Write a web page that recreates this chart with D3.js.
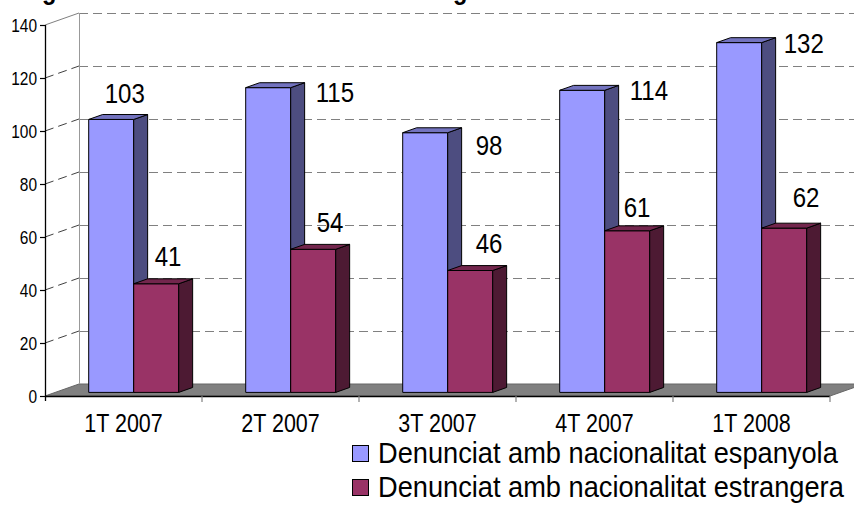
<!DOCTYPE html>
<html>
<head>
<meta charset="utf-8">
<script src="https://cdn.jsdelivr.net/npm/d3@7"></script>
<style>
  body { margin: 0; background: #fff; }
  svg { display: block; }
  text { font-family: "Liberation Sans", Arial, sans-serif; fill: #000; }
</style>
</head>
<body>
<div id="chart"></div>
<script>
// chart values
const categories = ["1T 2007", "2T 2007", "3T 2007", "4T 2007", "1T 2008"];
const spanish = [103, 115, 98, 114, 132];
const foreign = [41, 54, 46, 61, 62];
const seriesNames = ["Denunciat amb nacionalitat espanyola", "Denunciat amb nacionalitat estrangera"];
const yTicks = [0, 20, 40, 60, 80, 100, 120, 140];
const titleText = "Origen dels denunciats en violència de gènere";

const width = 854, height = 515;
const colors = [
  { front: "#9999FF", side: "#4D4D80", top: "#7373BF" },
  { front: "#993366", side: "#4D1A33", top: "#73264D" }
];
const narrow = 0.86; // no condensed font installed, squeeze glyphs instead

// label nudges from the bar's top front-left corner (text left, baseline)
const labelNudge = [
  [[16, -16], [70, 14], [73, 22], [70, 10], [67, 10]],
  [[21, -18], [26, -17], [28, -18], [19, -14], [31, -21]]
];

const svg = d3.select("#chart").append("svg")
  .attr("width", width).attr("height", height);

// place a text at (px, py) squeezed horizontally
function putText(parent, px, py, str, size, anchor, sx) {
  return parent.append("text")
    .attr("transform", `translate(${px},${py}) scale(${sx || narrow},1)`)
    .attr("text-anchor", anchor || "start")
    .style("font-size", size + "px")
    .text(str);
}

const x = d3.scaleBand().domain(categories).range([45, 830]);
const sub = d3.scaleBand().domain([0, 1]).range([0, x.bandwidth()]).paddingOuter(0.744);
const y = d3.scaleLinear().domain([0, 140]).range([396, 25]);

// depth projection: t = 0 front plane, t = 1 back wall
const depthX = 34, depthY = -12;
const proj = (px, py, t) => [px + depthX * t, py + depthY * t];
const tFront = 0.3, tBack = 0.71;
const pts = arr => arr.map(p => p.join(",")).join(" ");

// title (sits above the visible area, only descenders show)
const title = svg.append("text")
  .attr("x", 0).attr("y", 0)
  .style("font-weight", "bold")
  .style("font-size", "28px")
  .text(titleText);
const g1 = titleText.indexOf("g"), g2 = titleText.lastIndexOf("g");
const tn = title.node();
const off1 = tn.getSubStringLength(0, g1);
const off2 = tn.getSubStringLength(0, g2);
const ts = (453 - 42) / (off2 - off1);
title.attr("transform", `translate(${42 - off1 * ts},-1) scale(${ts},1)`);

// floor
const x0 = x.range()[0], x1 = x.range()[1];
svg.append("polygon")
  .attr("points", pts([proj(x0, y(0), 0), proj(x1, y(0), 0), proj(x1, y(0), 1), proj(x0, y(0), 1)]))
  .attr("fill", "#808080")
  .attr("stroke", "#666")
  .attr("stroke-width", 1);

// back wall gridlines
svg.append("g").selectAll("line")
  .data(yTicks.filter(d => d > 0))
  .join("line")
  .attr("x1", d => proj(x0, y(d), 1)[0])
  .attr("y1", d => proj(x0, y(d), 1)[1] + 0.5)
  .attr("x2", d => proj(x1, y(d), 1)[0])
  .attr("y2", d => proj(x1, y(d), 1)[1] + 0.5)
  .attr("stroke", "#808080")
  .attr("stroke-width", 1.2)
  .attr("stroke-dasharray", "9,5");

// side wall: diagonal lines from axis to wall
svg.append("g").selectAll("line")
  .data(yTicks.filter(d => d > 0))
  .join("line")
  .attr("x1", d => proj(x0, y(d), 0)[0])
  .attr("y1", d => proj(x0, y(d), 0)[1])
  .attr("x2", d => proj(x0, y(d), 1)[0])
  .attr("y2", d => proj(x0, y(d), 1)[1])
  .attr("stroke", d => d === 140 ? "#808080" : "#404040")
  .attr("stroke-width", 1)
  .attr("stroke-dasharray", d => d === 140 ? null : "9,5");

// back wall left edge
svg.append("line")
  .attr("x1", proj(x0, y(140), 1)[0] + 0.5).attr("y1", proj(x0, y(140), 1)[1])
  .attr("x2", proj(x0, y(0), 1)[0] + 0.5).attr("y2", proj(x0, y(0), 1)[1])
  .attr("stroke", "#999").attr("stroke-width", 1);

// bars
const series = [spanish, foreign];
const barG = svg.append("g");
categories.forEach((c, i) => {
  series.forEach((vals, s) => {
    const v = vals[i];
    const xl = x(c) + sub(s), xr = xl + sub.bandwidth();
    const yt = y(v), yb = y(0);
    const g = barG.append("g").attr("stroke", "#000").attr("stroke-width", 1).attr("stroke-linejoin", "round");
    g.append("polygon")
      .attr("points", pts([proj(xl, yt, tFront), proj(xr, yt, tFront), proj(xr, yb, tFront), proj(xl, yb, tFront)]))
      .attr("fill", colors[s].front);
    g.append("polygon")
      .attr("points", pts([proj(xr, yt, tFront), proj(xr, yt, tBack), proj(xr, yb, tBack), proj(xr, yb, tFront)]))
      .attr("fill", colors[s].side);
    g.append("polygon")
      .attr("points", pts([proj(xl, yt, tFront), proj(xl, yt, tBack), proj(xr, yt, tBack), proj(xr, yt, tFront)]))
      .attr("fill", colors[s].top);
  });
});

// data labels
const labelG = svg.append("g");
categories.forEach((c, i) => {
  series.forEach((vals, s) => {
    const v = vals[i];
    const p = proj(x(c) + sub(s), y(v), tFront);
    putText(labelG, p[0] + labelNudge[s][i][0], p[1] + labelNudge[s][i][1], v, 28);
  });
});

// y axis
const yAxis = svg.append("g");
yAxis.append("line")
  .attr("x1", x0 + 0.5).attr("y1", y(140))
  .attr("x2", x0 + 0.5).attr("y2", y(0) + 5)
  .attr("stroke", "#000").attr("stroke-width", 1.3);
yAxis.selectAll(".tick")
  .data(yTicks)
  .join("line")
  .attr("x1", x0 - 5).attr("x2", x0)
  .attr("y1", d => y(d) + 0.5).attr("y2", d => y(d) + 0.5)
  .attr("stroke", "#000").attr("stroke-width", 1.2);
yTicks.forEach(d => putText(yAxis, x0 - 8, y(d) + 6.5, d, 18, "end"));

// x axis front edge and ticks
svg.append("line")
  .attr("x1", x0).attr("y1", y(0) + 0.5)
  .attr("x2", x1).attr("y2", y(0) + 0.5)
  .attr("stroke", "#000").attr("stroke-width", 1.3);
svg.append("g").selectAll("line")
  .data(categories)
  .join("line")
  .attr("x1", d => x(d) + x.step())
  .attr("x2", d => x(d) + x.step())
  .attr("y1", y(0)).attr("y2", y(0) + 6)
  .attr("stroke", "#808080").attr("stroke-width", 1.2);
const xLab = svg.append("g");
categories.forEach(d => putText(xLab, x(d) + x.bandwidth() / 2, 432, d, 25, "middle"));

// legend, squeezed to the reference's width
const legend = svg.append("g").attr("transform", "translate(352,445)");
let legendSx = 1;
seriesNames.forEach((name, s) => {
  const row = legend.append("g").attr("transform", `translate(0,${s * 34})`);
  row.append("rect")
    .attr("x", 0.5).attr("y", 0.5)
    .attr("width", 16).attr("height", 16)
    .attr("fill", colors[s].front)
    .attr("stroke", "#000").attr("stroke-width", 1);
  const t = putText(row, 26, 18, name, 29, "start", 1);
  if (s === 0) legendSx = 460 / t.node().getComputedTextLength();
  t.attr("transform", `translate(26,18) scale(${legendSx},1)`);
});
</script>
</body>
</html>
